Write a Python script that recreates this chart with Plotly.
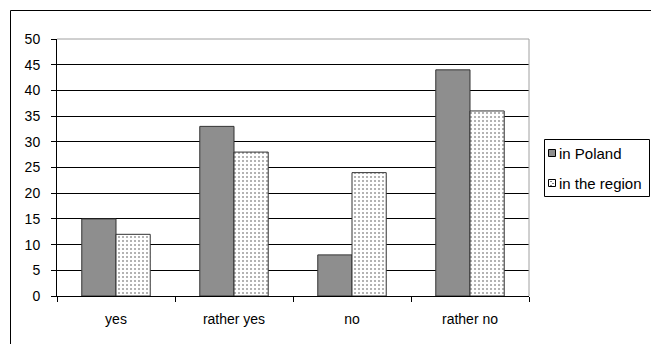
import plotly.graph_objects as go

categories = ["yes", "rather yes", "no", "rather no"]
in_poland = [15, 33, 8, 44]
in_region = [12, 28, 24, 36]
y_ticks = list(range(0, 51, 5))
series_names = ["in Poland", "in the region"]

W, H = 651, 344
L, R, T, B = 57, 529, 39, 296
pw, ph = R - L, B - T

POLAND_FILL = "#8e8e8e"
EDGE = "#333333"

fig = go.Figure()
fig.add_trace(go.Bar(
    x=categories, y=in_poland, name=series_names[0],
    marker=dict(color=POLAND_FILL, line=dict(color=EDGE, width=1)),
))
fig.add_trace(go.Bar(
    x=categories, y=in_region, name=series_names[1],
    marker=dict(color="white", line=dict(color=EDGE, width=1),
                pattern=dict(shape=".", fgcolor="#333333", bgcolor="white",
                             size=4, solidity=0.2)),
))


def px_x(x):
    return (x - L) / pw


def px_y(y):
    return (B - y) / ph


shapes = [
    # gray plot-area frame (top and right)
    dict(type="line", xref="paper", yref="paper", x0=0, x1=1, y0=1, y1=1,
         line=dict(color="#a0a0a0", width=1)),
    dict(type="line", xref="paper", yref="paper", x0=1, x1=1, y0=0, y1=1,
         line=dict(color="#a0a0a0", width=1)),
    # outer chart border
    dict(type="rect", xref="paper", yref="paper",
         x0=px_x(10.5), x1=px_x(700), y0=px_y(10.5), y1=px_y(400),
         line=dict(color="black", width=1), layer="below"),
    # legend frame
    dict(type="rect", xref="paper", yref="paper",
         x0=px_x(544.5), x1=px_x(649.5), y0=px_y(139.5), y1=px_y(196.5),
         line=dict(color="black", width=1), fillcolor="white"),
]

annotations = []
legend_rows = [153, 183]
legend_fills = [POLAND_FILL, "white"]
for name, yc, fill in zip(series_names, legend_rows, legend_fills):
    shapes.append(dict(type="rect", xref="paper", yref="paper",
                       x0=px_x(548.5), x1=px_x(555.5),
                       y0=px_y(yc - 3.5), y1=px_y(yc + 3.5),
                       line=dict(color="black", width=1), fillcolor=fill))
    annotations.append(dict(text=name, xref="paper", yref="paper",
                            x=px_x(557), y=px_y(yc), xanchor="left",
                            yanchor="middle", showarrow=False,
                            font=dict(size=15, color="black")))

# dotted fill in the region legend key
for dx, dy in [(550.5, 181), (552.5, 183), (550.5, 185)]:
    shapes.append(dict(type="rect", xref="paper", yref="paper",
                       x0=px_x(dx), x1=px_x(dx + 1), y0=px_y(dy), y1=px_y(dy + 1),
                       line=dict(width=0), fillcolor="black"))

fig.update_layout(
    width=W, height=H,
    margin=dict(l=L, r=W - R, t=T, b=H - B, autoexpand=False),
    paper_bgcolor="white", plot_bgcolor="white",
    barmode="group", bargap=0.42, bargroupgap=0,
    font=dict(family="Liberation Sans, Arial, sans-serif", size=14, color="black"),
    showlegend=False,
    xaxis=dict(
        showline=True, linecolor="black", linewidth=1,
        ticks="outside", tickson="boundaries", ticklen=5, tickcolor="black",
        showgrid=False, ticklabelstandoff=10,
    ),
    yaxis=dict(
        range=[0, 50], tickvals=y_ticks, showgrid=True, gridcolor="black",
        gridwidth=1, showline=True, linecolor="black", linewidth=1,
        ticks="outside", ticklen=5, tickcolor="black", zeroline=False,
        ticklabelstandoff=8,
    ),
    shapes=shapes,
    annotations=annotations,
)

fig.write_html("out.html")
